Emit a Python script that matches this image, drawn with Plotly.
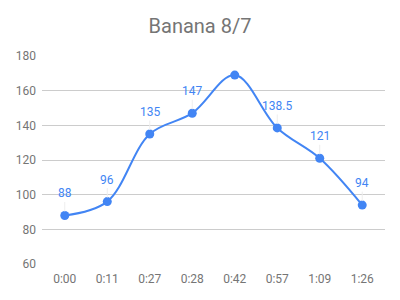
import plotly.graph_objects as go

categories = ["0:00", "0:11", "0:27", "0:28", "0:42", "0:57", "1:09", "1:26"]
values = [88, 96, 135, 147, 169, 138.5, 121, 94]
labels = ["88", "96", "135", "147", "", "138.5", "121", "94"]
y_ticks = [60, 80, 100, 120, 140, 160, 180]

BLUE = "#4285F4"
fig = go.Figure()
fig.add_trace(go.Scatter(
    x=categories, y=values, mode="lines+markers",
    line=dict(color=BLUE, width=2, shape="spline", smoothing=1),
    marker=dict(color=BLUE, size=9),
    hoverinfo="skip",
))
for c, v, t in zip(categories, values, labels):
    if not t:
        continue
    fig.add_annotation(
        x=c, y=v, text=t, showarrow=True, arrowhead=0, arrowwidth=1,
        arrowcolor="#eeeeee", ax=0, ay=-22, standoff=4,
        font=dict(family="Roboto", size=12, color=BLUE),
    )

fig.update_layout(
    width=400, height=300,
    margin=dict(l=42, r=15, t=56, b=36),
    paper_bgcolor="white", plot_bgcolor="white",
    showlegend=False,
    font=dict(family="Roboto", size=12, color="#757575"),
    title=dict(text="Banana 8/7", x=0.5, xanchor="center", y=0.913, yanchor="middle",
               font=dict(family="Roboto", size=20, color="#757575")),
    xaxis=dict(type="category", showgrid=False, showline=False, ticks="",
               ticklabelstandoff=6,
               tickfont=dict(size=12, color="#757575"), fixedrange=True),
    yaxis=dict(range=[60, 180], tickvals=y_ticks, showgrid=True, gridcolor="#cccccc",
               gridwidth=1, zeroline=False, showline=False, ticks="",
               ticklabelstandoff=5,
               tickfont=dict(size=12, color="#757575"), fixedrange=True),
)
fig.write_html("out.html", config={"displayModeBar": False})
